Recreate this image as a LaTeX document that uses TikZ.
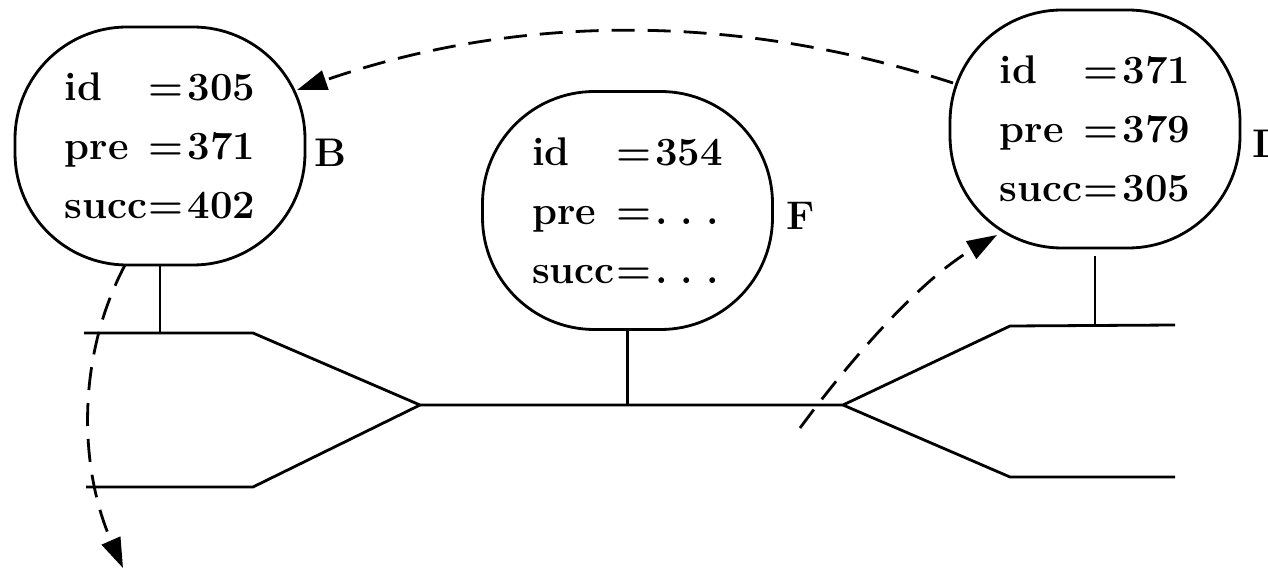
\documentclass[tikz,border=0pt]{standalone}
\usetikzlibrary{arrows.meta}
\newcommand\fld[2]{\makebox[84pt][l]{#1}=\hspace{4pt}#2}
\begin{document}
\begin{tikzpicture}[x=1pt,y=-1pt, line width=2.8pt,
  rec/.style={draw, rounded corners=112pt, minimum width=290pt, minimum height=238pt,
    inner sep=0pt, font=\fontsize{40}{59}\selectfont\bfseries, align=left},
  lab/.style={font=\fontsize{40}{42}\selectfont\bfseries, anchor=base west, inner sep=0pt},
  dsh/.style={dash pattern=on 23pt off 13pt},
  tip/.style={-{Triangle[length=30pt,width=20pt]}}
]
\useasboundingbox (0,0) rectangle (1268,569);

\node[rec] (B) at (160,146) {\fld{id}{305}\\ \fld{pre}{371}\\ \fld{succ}{402}};
\node[rec] (F) at (627.5,210.5) {\fld{id}{354}\\ \fld{pre}{.\hspace{0.33em}.\hspace{0.33em}.}\\ \fld{succ}{.\hspace{0.33em}.\hspace{0.33em}.}};
\node[rec] (L) at (1095,129) {\fld{id}{371}\\ \fld{pre}{379}\\ \fld{succ}{305}};

\node[lab] (lb) at (313,167) {B};
\node[lab] (lf) at (785,230) {F};
\node[lab] (ll) at (1251,158) {L};

% rails
\coordinate (u1) at (84,333);
\coordinate (u2) at (253,333);
\coordinate (j1) at (420,405);
\coordinate (l1) at (86,487);
\coordinate (l2) at (253,487);
\coordinate (j2) at (843,405);
\coordinate (u3) at (1010,326);
\coordinate (u4) at (1175,325);
\coordinate (l3) at (1010,477);
\coordinate (l4) at (1175,477);
\draw (u1) -- (u2) -- (j1) -- (j2) -- (u3) -- (u4);
\draw (l1) -- (l2) -- (j1);
\draw (j2) -- (l3) -- (l4);

% stems
\draw (B.south) -- (B.south |- u1);
\draw (F.south) -- (F.south |- j1);
\draw ([yshift=-7pt]L.south) -- (L.south |- u3);

% dashed arrows
\coordinate (a1s) at (953,83);
\coordinate (a1e) at (297,90);
\draw[dsh,tip] (a1s) .. controls (734,12) and (516,14) .. (a1e);
\coordinate (a2s) at (125,265);
\coordinate (a2e) at (123,568);
\draw[dsh,tip] (a2s) .. controls (75,360) and (80,470) .. (a2e);
\coordinate (a3s) at (800,428);
\coordinate (a3e) at (997,235);
\draw[dsh,tip] (a3s) .. controls (850,360) and (920,280) .. (a3e);
\end{tikzpicture}
\end{document}
